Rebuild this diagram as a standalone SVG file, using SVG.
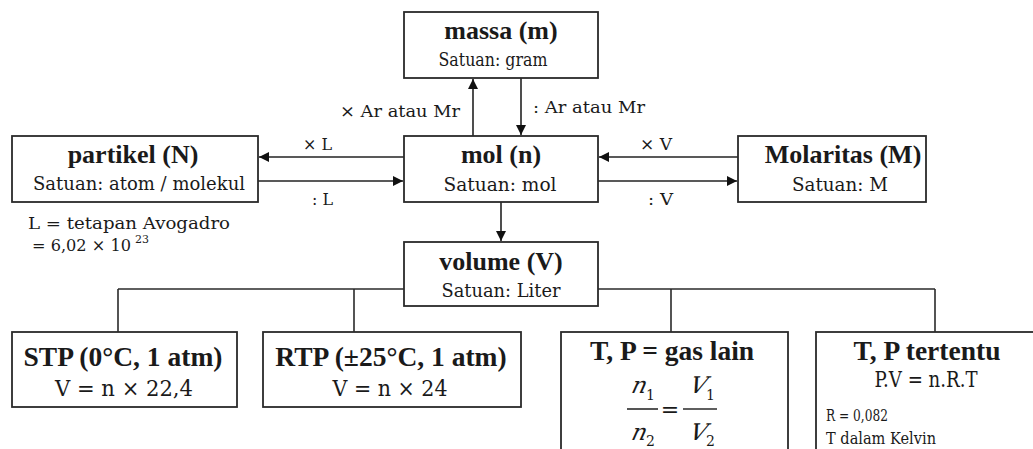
<svg xmlns="http://www.w3.org/2000/svg" width="1033" height="449" viewBox="0 0 1033 449">
<defs>
<marker id="ah" viewBox="0 0 10 10" refX="10" refY="5" markerWidth="10" markerHeight="10" markerUnits="userSpaceOnUse" orient="auto">
<path d="M0,0 L10,5 L0,10 z" fill="#111"/>
</marker>
<style>
text{fill:#1a1a1a}
.box{fill:#fff;stroke:#2a2a2a;stroke-width:1.8}
.ln{fill:none;stroke:#2a2a2a;stroke-width:1.6}
.ar{fill:none;stroke:#222;stroke-width:1.6;marker-end:url(#ah)}
.t{font-family:"Liberation Serif","DejaVu Serif",serif;font-weight:bold;font-size:26px;text-anchor:middle}
.s{font-family:"DejaVu Serif",serif;font-size:19px;text-anchor:middle}
.bt{font-family:"Liberation Serif","DejaVu Serif",serif;font-weight:bold;font-size:27.5px;text-anchor:middle}
.bf{font-family:"DejaVu Serif",serif;font-size:22px;text-anchor:middle}
.lb{font-family:"DejaVu Serif",serif;font-size:17px}
.it{font-family:"DejaVu Serif",serif;font-style:italic;font-size:23px;text-anchor:middle}
.sub{font-family:"DejaVu Serif",serif;font-size:14px}
.sm{font-family:"DejaVu Serif",serif;font-size:17px}
</style>
</defs>
<g id="connectors">
<line class="ln" x1="118" y1="289" x2="935" y2="289"/>
<line class="ln" x1="118" y1="289" x2="118" y2="332"/>
<line class="ln" x1="354" y1="289" x2="354" y2="332"/>
<line class="ln" x1="671" y1="289" x2="671" y2="332"/>
<line class="ln" x1="935" y1="289" x2="935" y2="332"/>
<line class="ar" x1="473" y1="136" x2="473" y2="79"/>
<line class="ar" x1="521" y1="78" x2="521" y2="135"/>
<line class="ar" x1="404" y1="157" x2="259" y2="157"/>
<line class="ar" x1="258" y1="181" x2="403" y2="181"/>
<line class="ar" x1="738" y1="157" x2="599" y2="157"/>
<line class="ar" x1="598" y1="181" x2="737" y2="181"/>
<line class="ar" x1="501" y1="202" x2="501" y2="241"/>
<text class="lb" x="340" y="117" textLength="120" lengthAdjust="spacingAndGlyphs">× Ar atau Mr</text>
<text class="lb" x="533" y="113" textLength="112" lengthAdjust="spacingAndGlyphs">: Ar atau Mr</text>
<text class="lb" x="303" y="150" textLength="29" lengthAdjust="spacingAndGlyphs">× L</text>
<text class="lb" x="312" y="205" textLength="21" lengthAdjust="spacingAndGlyphs">: L</text>
<text class="lb" x="640" y="150" textLength="32" lengthAdjust="spacingAndGlyphs">× V</text>
<text class="lb" x="648" y="205" textLength="25" lengthAdjust="spacingAndGlyphs">: V</text>
</g>
<g id="massa">
<rect class="box" x="404" y="12" width="194" height="66"/>
<text class="t" x="501" y="39">massa (m)</text>
<text class="s" x="493" y="66" textLength="109" lengthAdjust="spacingAndGlyphs">Satuan: gram</text>
</g>
<g id="partikel">
<rect class="box" x="12" y="136" width="246" height="66"/>
<text class="t" x="133" y="163">partikel (N)</text>
<text class="s" x="139" y="190" textLength="212" lengthAdjust="spacingAndGlyphs">Satuan: atom / molekul</text>
</g>
<g id="avogadro">
<text class="sm" x="28" y="229" textLength="202" lengthAdjust="spacingAndGlyphs">L = tetapan Avogadro</text>
<text class="sm" x="32" y="251" textLength="99" lengthAdjust="spacingAndGlyphs">= 6,02 × 10</text>
<text class="sub" x="135" y="243" style="font-size:11px">23</text>
</g>
<g id="mol">
<rect class="box" x="404" y="136" width="194" height="66"/>
<text class="t" x="501" y="163">mol (n)</text>
<text class="s" x="500" y="191" textLength="113" lengthAdjust="spacingAndGlyphs">Satuan: mol</text>
</g>
<g id="molaritas">
<rect class="box" x="738" y="136" width="188" height="66"/>
<text class="t" x="843" y="163">Molaritas (M)</text>
<text class="s" x="840" y="191" textLength="96" lengthAdjust="spacingAndGlyphs">Satuan: M</text>
</g>
<g id="volume">
<rect class="box" x="404" y="242" width="194" height="64"/>
<text class="t" x="501" y="270">volume (V)</text>
<text class="s" x="501" y="297" textLength="119" lengthAdjust="spacingAndGlyphs">Satuan: Liter</text>
</g>
<g id="stp">
<rect class="box" x="12" y="332" width="225" height="75"/>
<text class="bt" x="123" y="366">STP (0°C, 1 atm)</text>
<text class="bf" x="124" y="396" textLength="138" lengthAdjust="spacingAndGlyphs">V = n × 22,4</text>
</g>
<g id="rtp">
<rect class="box" x="263" y="332" width="258" height="75"/>
<text class="bt" x="391" y="366">RTP (±25°C, 1 atm)</text>
<text class="bf" x="390" y="396" textLength="115" lengthAdjust="spacingAndGlyphs">V = n × 24</text>
</g>
<g id="gaslain">
<rect class="box" x="561" y="332" width="227" height="130"/>
<text class="bt" x="672" y="360">T, P = gas lain</text>
<text class="it" transform="translate(638,393) skewX(-14)" x="0" y="0">n</text>
<text class="sub" x="646" y="400">1</text>
<line class="ln" x1="627" y1="409" x2="658" y2="409"/>
<text class="it" transform="translate(638,440) skewX(-14)" x="0" y="0">n</text>
<text class="sub" x="646" y="446">2</text>
<text class="bf" x="670" y="417">=</text>
<text class="it" transform="translate(697,393) skewX(-14)" x="0" y="0">V</text>
<text class="sub" x="706" y="400">1</text>
<line class="ln" x1="683" y1="409" x2="717" y2="409"/>
<text class="it" transform="translate(697,440) skewX(-14)" x="0" y="0">V</text>
<text class="sub" x="706" y="446">2</text>
</g>
<g id="tertentu">
<rect class="box" x="816" y="332" width="230" height="130"/>
<text class="bt" x="927" y="360">T, P tertentu</text>
<text class="bf" x="926" y="387" textLength="103" lengthAdjust="spacingAndGlyphs">P.V = n.R.T</text>
<text class="sm" x="826" y="421" textLength="62" lengthAdjust="spacingAndGlyphs">R = 0,082</text>
<text class="sm" x="826" y="444" textLength="110" lengthAdjust="spacingAndGlyphs">T dalam Kelvin</text>
</g>
</svg>
